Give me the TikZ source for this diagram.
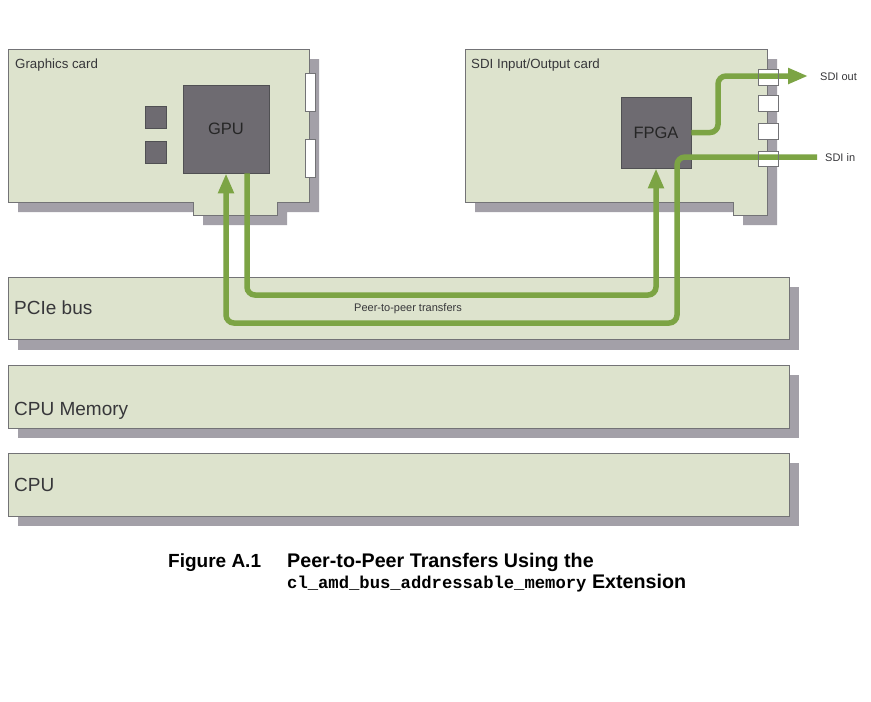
\documentclass[tikz,border=0pt]{standalone}
\usepackage{fontspec}
\setmainfont{Liberation Sans}
\newfontfamily\monob{Liberation Mono}
\usetikzlibrary{arrows.meta,calc}
\definecolor{boardfill}{RGB}{221,227,205}
\definecolor{edgegray}{RGB}{115,115,118}
\definecolor{shadowgray}{RGB}{163,160,168}
\definecolor{chipgray}{RGB}{110,107,113}
\definecolor{flowgreen}{RGB}{124,164,68}
\definecolor{textgray}{RGB}{55,55,58}
\begin{document}
\begin{tikzpicture}[x=1pt,y=-1pt,
  card/.style={fill=boardfill, draw=edgegray, line width=0.8pt},
  shade/.style={fill=shadowgray},
  bus/.style={fill=boardfill, draw=edgegray, line width=0.8pt, anchor=north west,
    minimum width=781pt, minimum height=62pt, inner sep=0pt},
  chip/.style={fill=chipgray, draw=edgegray!70!black, line width=0.8pt, text=black!85,
    font=\fontsize{16.5}{18}\selectfont, inner sep=0pt},
  slot/.style={fill=white, draw=edgegray, line width=0.7pt},
  slotline/.style={draw=edgegray, line width=0.7pt},
  flow/.style={draw=flowgreen, line width=5.5pt, rounded corners=8pt},
  flowtip/.style={-{Triangle[width=15pt,length=20pt]}},
  lbl/.style={anchor=base west, inner sep=0pt, text=textgray},
  cardlbl/.style={lbl, font=\fontsize{13.3}{15}\selectfont},
  buslbl/.style={lbl, font=\fontsize{19}{21}\selectfont},
  smalllbl/.style={lbl, font=\fontsize{11}{13}\selectfont},
  caplbl/.style={anchor=base west, inner sep=0pt, text=black, font=\fontsize{19}{21}\selectfont\bfseries},
  titlelbl/.style={caplbl, font=\fontsize{19.7}{21}\selectfont\bfseries}
]
\useasboundingbox[fill=white] (0,0) rectangle (871,702);

% ---------- shadows ----------
\fill[shade] (18,59) -- (319,59) -- (319,212) -- (287,212) -- (287,225) -- (203,225) -- (203,212) -- (18,212) -- cycle;
\fill[shade] (475,59) -- (777,59) -- (777,225) -- (743,225) -- (743,212) -- (475,212) -- cycle;
\fill[shade] (18,287) rectangle (799,350);
\fill[shade] (18,375) rectangle (799,438);
\fill[shade] (18,463) rectangle (799,526);

% ---------- cards ----------
\draw[card] (8,49) -- (309,49) -- (309,202) -- (277,202) -- (277,215) -- (193,215) -- (193,202) -- (8,202) -- cycle;
\draw[card] (465,49) -- (767,49) -- (767,215) -- (733,215) -- (733,202) -- (465,202) -- cycle;

% graphics card slots and small chips
\draw[slot] (305,73) rectangle (315,111);
\draw[slot] (305,139) rectangle (315,177);
\fill[chipgray, draw=edgegray!70!black, line width=0.7pt] (145,106) rectangle (166,128);
\fill[chipgray, draw=edgegray!70!black, line width=0.7pt] (145,141) rectangle (166,163);

% SDI card slots
\draw[slot] (758,69) rectangle (778,85);
\draw[slot] (758,95) rectangle (778,111);
\draw[slot] (758,123) rectangle (778,139);
\draw[slot] (758,151) rectangle (778,166);

% ---------- buses ----------
\node[bus] (pcie) at (8,277) {};
\node[bus, minimum height=63pt] (mem) at (8,365) {};
\node[bus, minimum height=63pt] (cpu) at (8,453) {};

% ---------- chips ----------
\node[chip, minimum width=86pt, minimum height=88pt] (gpu) at (226,129) {GPU};
\node[chip, minimum width=70pt, minimum height=71pt] (fpga) at (656,132.5) {FPGA};

% ---------- flows ----------
\coordinate (sdiout) at (808,76);
\coordinate (sdiin) at (817,157);
\draw[flow, flowtip] ($(gpu.south)+(21,0)$) -- (247,295) -- (656,295) -- (fpga.south);
\draw[flow, flowtip] (sdiin) -- (677,157) -- (677,323) -- (226,323) -- (gpu.south);
\draw[flow, flowtip] (fpga.east) -- (718,132.5) -- (718,76) -- (sdiout);

% slot outlines over the flows
\draw[slotline] (758,69) rectangle (778,85);
\draw[slotline] (758,151) rectangle (778,166);

% ---------- labels ----------
\node[cardlbl] (gclbl) at (15,68) {Graphics card};
\node[cardlbl] (sdilbl) at (471,68) {SDI Input/Output card};
\node[smalllbl] (outlbl) at (820,80) {SDI out};
\node[smalllbl] (inlbl) at (825,161) {SDI in};
\node[smalllbl, anchor=base] (p2p) at (408,311) {Peer-to-peer transfers};
\node[buslbl] (pcielbl) at (14,314) {PCIe bus};
\node[buslbl] (memlbl) at (14,415) {CPU Memory};
\node[buslbl] (cpulbl) at (14,491) {CPU};

% ---------- caption ----------
\node[caplbl] (fig) at (168,567) {Figure A.1};
\node[titlelbl] (title1) at (287,567) {Peer-to-Peer Transfers Using the};
\node[titlelbl] (title2) at (287,588) {{\monob\fontsize{17.2}{19}\selectfont cl\_amd\_bus\_addressable\_memory} Extension};
\end{tikzpicture}
\end{document}
